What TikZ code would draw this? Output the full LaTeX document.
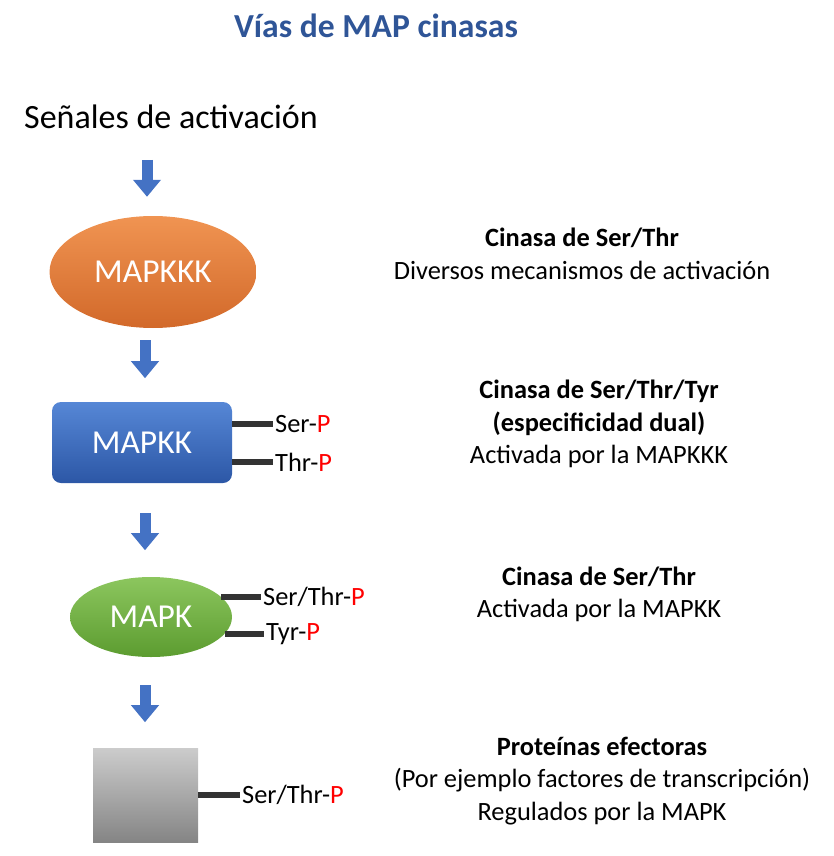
\documentclass[tikz,border=0pt]{standalone}
\usepackage{fontspec}
\setmainfont{Carlito}
\usetikzlibrary{positioning, arrows.meta, shapes.geometric, calc}

\definecolor{titulo}{HTML}{2F5597}
\definecolor{azulflecha}{HTML}{4472C4}
\definecolor{naranjaA}{HTML}{F09452}
\definecolor{naranjaB}{HTML}{E57B37}
\definecolor{naranjaC}{HTML}{D2692A}
\definecolor{azulA}{HTML}{5687D6}
\definecolor{azulB}{HTML}{2C57A6}
\definecolor{verdeA}{HTML}{8CC65E}
\definecolor{verdeB}{HTML}{5C9C30}
\newcommand{\fosP}{\textcolor{red}{P}}

\tikzset{
  flecha/.style={line width=11pt, draw=azulflecha, -{Triangle[width=27pt,length=17pt]}},
  palo/.style={line width=6pt, draw=black!80},
  fosfo/.style={font=\fontsize{26.4}{30}\selectfont, inner sep=2pt, anchor=west},
  desc/.style={align=center, font=\fontsize{26.4}{32.5}\selectfont},
  enzima/.style={text=white, font=\fontsize{33.5}{38}\selectfont},
}

\begin{document}
\begin{tikzpicture}[x=1pt,y=-1pt]
    \useasboundingbox (0,0) rectangle (834,856);

    \node[font=\fontsize{33.6}{38}\selectfont\bfseries, text=titulo] (titulo) at (376,26) {Vías de MAP cinasas};
    \node[font=\fontsize{34}{38}\selectfont, anchor=west, inner sep=0pt] (senales) at (24,117) {Señales de activación};

    % cascada
    \node[enzima, ellipse, minimum width=207pt, minimum height=112pt,
          top color=naranjaA, middle color=naranjaB, bottom color=naranjaC]
          (mapkkk) at (153,272) {MAPKKK};
    \node[enzima, rectangle, rounded corners=9pt, minimum width=180pt, minimum height=81pt,
          top color=azulA, bottom color=azulB]
          (mapkk) at (142,442.5) {MAPKK};
    \node[enzima, ellipse, minimum width=162pt, minimum height=80pt,
          top color=verdeA, bottom color=verdeB]
          (mapk) at (151,617) {MAPK};
    \node[rectangle, minimum width=105pt, minimum height=94pt,
          top color=black!20, bottom color=black!48]
          (efector) at (145.5,795) {};

    % flechas
    \draw[flecha] ($(mapkkk.north)+(-6,-56)$) -- ($(mapkkk.north)+(-6,-19)$);
    \draw[flecha] ($(mapkkk.south)+(-8,12)$) -- ($(mapkkk.south)+(-8,50)$);
    \draw[flecha] ($(mapkk.south)+(3,30)$) -- ($(mapkk.south)+(3,67)$);
    \draw[flecha] ($(mapk.south)+(-6,28)$) -- ($(mapk.south)+(-6,65)$);

    % sitios fosforilados
    \node[fosfo] (kkser) at (273,424) {Ser-\fosP};
    \node[fosfo] (kkthr) at (273,462) {Thr-\fosP};
    \node[fosfo] (kserthr) at (261,597) {Ser/Thr-\fosP};
    \node[fosfo] (ktyr) at (264,634) {Tyr-\fosP};
    \node[fosfo] (efserthr) at (240,795) {Ser/Thr-\fosP};
    \draw[palo] (mapkk.east |- kkser) -- (kkser.west);
    \draw[palo] (mapkk.east |- kkthr) -- (kkthr.west);
    \draw[palo] (mapk.16) -- (kserthr.west |- mapk.16);
    \draw[palo] (mapk.-13) -- (ktyr.west |- mapk.-13);
    \draw[palo] (efector.east) -- (efserthr.west);

    % descripciones
    \node[desc] (d1) at (582,254) {\textbf{Cinasa de Ser/Thr}\\Diversos mecanismos de activación};
    \node[desc] (d2) at (599,424) {\textbf{Cinasa de Ser/Thr/Tyr}\\\textbf{(especificidad dual)}\\Activada por la MAPKKK};
    \node[desc] (d3) at (599,594.5) {\textbf{Cinasa de Ser/Thr}\\Activada por la MAPKK};
    \node[desc] (d4) at (602,781) {\textbf{Proteínas efectoras}\\(Por ejemplo factores de transcripción)\\Regulados por la MAPK};
\end{tikzpicture}
\end{document}
